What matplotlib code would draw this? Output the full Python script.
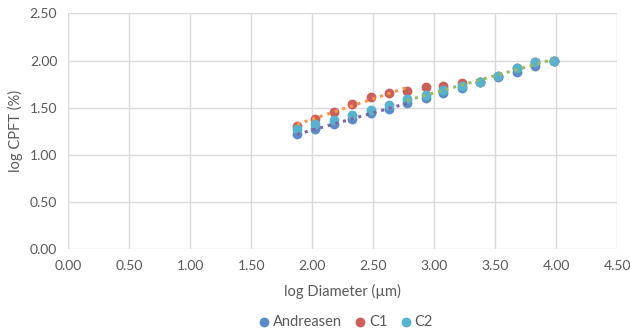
import numpy as np
import matplotlib
matplotlib.use("Agg")
import matplotlib.pyplot as plt

plt.rcParams['font.family'] = ['Lato', 'DejaVu Sans']

log_d = [1.875, 2.025, 2.176, 2.326, 2.477, 2.628, 2.778, 2.929, 3.072,
         3.230, 3.373, 3.525, 3.677, 3.826, 3.978]
andreasen = [1.22, 1.27, 1.33, 1.38, 1.44, 1.49, 1.55, 1.60, 1.66,
             1.71, 1.77, 1.83, 1.88, 1.94, 2.00]
c1 = [1.31, 1.38, 1.46, 1.545, 1.61, 1.66, 1.68, 1.72, 1.73,
      1.76, 1.77, 1.84, 1.92, 1.99, 2.00]
c2 = [1.28, 1.325, 1.37, 1.42, 1.48, 1.53, 1.59, 1.64, 1.685,
      1.73, 1.77, 1.84, 1.92, 1.99, 2.00]

x_ticks = [0.0, 0.5, 1.0, 1.5, 2.0, 2.5, 3.0, 3.5, 4.0, 4.5]
y_ticks = [0.0, 0.5, 1.0, 1.5, 2.0, 2.5]

fig = plt.figure(figsize=(6.30, 3.35), dpi=100)
ax = fig.add_axes([0.1084, 0.2558, 0.98 - 0.1084, 0.960 - 0.2558])

grid_c = '#D9D9D9'
text_c = '#595959'

x = np.array(log_d)
ms = 50
ax.scatter(x, andreasen, s=ms, color='#5B8BC9', zorder=3, label='Andreasen', linewidths=0)
ax.scatter(x, c1, s=ms, color='#CD5F58', zorder=4, label='C1', linewidths=0)
ax.scatter(x, c2, s=ms, color='#55B3CF', zorder=5, label='C2', linewidths=0)

# trendlines
lo = x <= 2.78
hi = x >= 2.77
for xs, ys, col in [(x[lo], np.array(andreasen)[lo], '#8064A2'),
                    (x[lo], np.array(c1)[lo], '#F79646'),
                    (x[hi], np.array(c2)[hi], '#9BBB59')]:
    p = np.polyfit(xs, ys, 1)
    xx = np.array([xs.min(), xs.max()])
    ax.plot(xx, np.polyval(p, xx), linestyle=(0, (1, 1.6)), color=col,
            linewidth=2.2, zorder=6)

ax.set_xlim(0, 4.5)
ax.set_ylim(0, 2.5)
ax.set_xticks(x_ticks)
ax.set_yticks(y_ticks)
ax.set_xticklabels([f'{v:.2f}' for v in x_ticks])
ax.set_yticklabels([f'{v:.2f}' for v in y_ticks])
ax.grid(True, color=grid_c, linewidth=1)
ax.set_axisbelow(True)
for s in ax.spines.values():
    s.set_visible(False)
ax.tick_params(length=0, labelsize=10, colors=text_c, pad=8)

ax.set_xlabel('log Diameter (µm)', fontsize=10.5, color=text_c, labelpad=8)
ax.set_ylabel('log CPFT (%)', fontsize=10.5, color=text_c, labelpad=5)

leg = fig.legend(loc='center', bbox_to_anchor=(0.549, 0.038), ncol=3, frameon=False,
                 fontsize=10.5, handlelength=0.7, handletextpad=0.25,
                 columnspacing=0.9, markerscale=1.0, labelcolor=text_c)

fig.savefig('out.png', dpi=100)
